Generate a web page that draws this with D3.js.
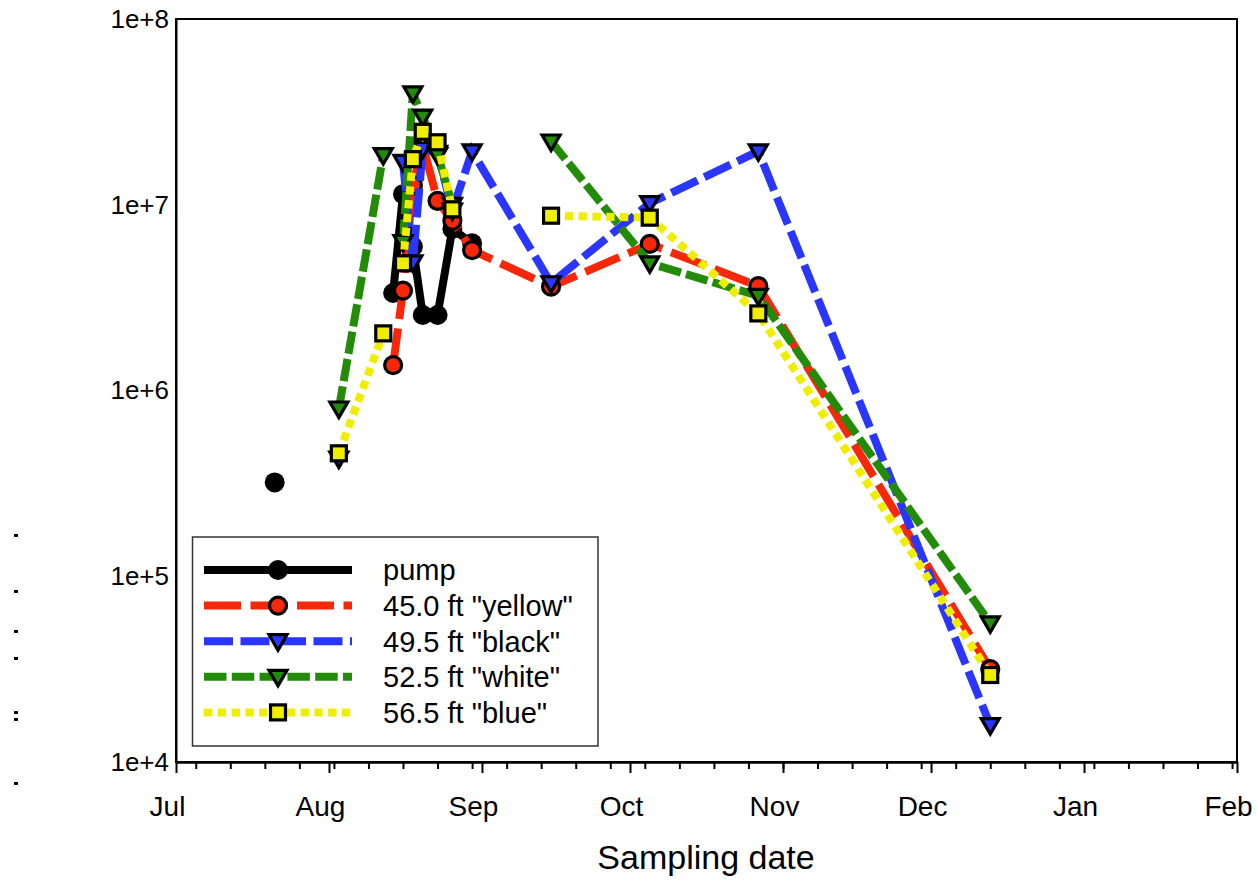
<!DOCTYPE html>
<html><head><meta charset="utf-8">
<script src="https://cdn.jsdelivr.net/npm/d3@7"></script>
<style>body{margin:0;background:#fff}svg{display:block}</style>
</head><body>
<svg id="c" width="1257" height="880"></svg>
<script>
// ---- data ----
const sampleDates = ["2009-07-21","2009-08-03","2009-08-12","2009-08-14","2009-08-16","2009-08-18",
  "2009-08-20","2009-08-23","2009-08-26","2009-08-30","2009-09-15","2009-10-05","2009-10-27","2009-12-13"];
const pump   = [3.2e5, null, null, 3.35e6, 1.14e7, 5.95e6, 2.55e6, 2.55e6, 7.4e6, 6.2e6, null, null, null, null];
const ft45   = [null, null, null, 1.37e6, 3.45e6, 1.27e7, 2.1e7, 1.05e7, 8.2e6, 5.7e6, 3.62e6, 6.15e6, 3.65e6, 3.16e4];
const ft49   = [null, 4.3e5, null, null, 1.7e7, 4.9e6, 2.0e7, 1.9e7, 9.3e6, 1.94e7, 3.78e6, 1.02e7, 1.94e7, 1.58e4];
const ft52   = [null, 8.0e5, 1.85e7, null, 6.3e6, 3.98e7, 2.98e7, 1.85e7, 1.0e7, null, 2.19e7, 4.84e6, 3.23e6, 5.58e4];
const ft56   = [null, 4.59e5, 2.03e6, null, 4.84e6, 1.76e7, 2.47e7, 2.17e7, 9.45e6, null, 8.73e6, 8.52e6, 2.6e6, 2.94e4];
const seriesNames = ['pump', '45.0 ft "yellow"', '49.5 ft "black"', '52.5 ft "white"', '56.5 ft "blue"'];
const monthLabels = ["Jul","Aug","Sep","Oct","Nov","Dec","Jan","Feb"];
const yTickValues = [1e4, 1e5, 1e6, 1e7, 1e8];
const yTickLabels = ["1e+4","1e+5","1e+6","1e+7","1e+8"];
const xAxisTitle = "Sampling date";

// ---- styles ----
const seriesValues = [pump, ft45, ft49, ft52, ft56];
const colors = ["#000000", "#f7280a", "#2a36fb", "#228b08", "#f0ee00"];
const dashes = [null, "37,9.5", "29,7.5", "22.5,5.3", "8.3,5.5"];
const markers = ["dot", "circle", "tri", "tri", "square"];

const parse = d3.utcParse("%Y-%m-%d");
const svg = d3.select("#c");
const L = 176, R = 1237, T = 19, B = 762;
const x = d3.scaleUtc().domain([parse("2009-07-01"), parse("2010-02-01")]).range([L, R]);
const y = d3.scaleLog().domain([1e4, 1e8]).range([B, T]);
const FONT = "Arial, 'Liberation Sans', Helvetica, sans-serif";

// stray marks at the left edge of the original
[534, 590, 630, 657, 711, 718, 782].forEach(v => svg.append("rect").attr("x", 14).attr("y", v).attr("width", 4).attr("height", 3).attr("fill", "#000"));

// frame
svg.append("rect").attr("x", L).attr("y", T).attr("width", R - L).attr("height", B - T)
  .attr("fill", "none").attr("stroke", "#000").attr("stroke-width", 2);

// x axis: months (major) and weeks (minor)
const months = d3.utcMonth.range(parse("2009-07-01"), parse("2010-02-02"));
const weeks = d3.utcSunday.range(parse("2009-07-01"), parse("2010-02-02"));
const gMinor = svg.append("g").attr("transform", `translate(0,${B})`)
  .call(d3.axisBottom(x).tickValues(weeks).tickSize(7).tickSizeOuter(0).tickFormat(""));
const gMajor = svg.append("g").attr("transform", `translate(0,${B})`)
  .call(d3.axisBottom(x).tickValues(months).tickSize(11).tickSizeOuter(0).tickPadding(23)
    .tickFormat((d, i) => monthLabels[i]));
[gMinor, gMajor].forEach(g => {
  g.select(".domain").attr("stroke", "#000").attr("stroke-width", 2);
  g.selectAll(".tick line").attr("stroke", "#000").attr("stroke-width", 2);
});
gMajor.selectAll(".tick text").attr("font-family", FONT).attr("font-size", 28).attr("fill", "#000")
  .attr("dx", -9);

// y axis labels
const gy = svg.append("g").attr("transform", `translate(${L},0)`)
  .call(d3.axisLeft(y).tickValues(yTickValues).tickSize(0).tickPadding(7)
    .tickFormat((d, i) => yTickLabels[i]));
gy.select(".domain").attr("stroke", "#000").attr("stroke-width", 2);
gy.selectAll(".tick text").attr("font-family", FONT).attr("font-size", 26).attr("fill", "#000");

// x axis title
svg.append("text").attr("x", 706).attr("y", 869).attr("text-anchor", "middle")
  .attr("font-family", FONT).attr("font-size", 34).text(xAxisTitle);

// markers
function drawMarker(g, type, color, cx, cy) {
  if (type === "dot") g.append("circle").attr("cx", cx).attr("cy", cy).attr("r", 10).attr("fill", "#000");
  else if (type === "circle") g.append("circle").attr("cx", cx).attr("cy", cy).attr("r", 8.5)
    .attr("fill", color).attr("stroke", "#000").attr("stroke-width", 3.2);
  else if (type === "tri") g.append("path").attr("d", `M${cx-9},${cy-6.5}L${cx+9},${cy-6.5}L${cx},${cy+9}Z`)
    .attr("fill", color).attr("stroke", "#000").attr("stroke-width", 3.2).attr("stroke-linejoin", "miter");
  else if (type === "square") g.append("rect").attr("x", cx - 7.5).attr("y", cy - 7.5).attr("width", 15).attr("height", 15)
    .attr("fill", color).attr("stroke", "#000").attr("stroke-width", 3.2);
}

const dates = sampleDates.map(parse);
const line = d3.line().defined(d => d.v != null).x(d => x(d.d)).y(d => y(d.v));
const plot = svg.append("g");
seriesValues.forEach((vals, si) => {
  const pts = vals.map((v, i) => ({ d: dates[i], v }));
  const g = plot.append("g");
  g.append("path").attr("d", line(pts)).attr("fill", "none").attr("stroke", colors[si])
    .attr("stroke-width", 8).attr("stroke-dasharray", dashes[si]).attr("stroke-linejoin", "miter");
  pts.filter(p => p.v != null).forEach(p => drawMarker(g, markers[si], colors[si], x(p.d), y(p.v)));
});

// legend
const lg = svg.append("g");
lg.append("rect").attr("x", 192.5).attr("y", 537).attr("width", 405.5).attr("height", 209)
  .attr("fill", "#fff").attr("stroke", "#333").attr("stroke-width", 1.5);
seriesNames.forEach((name, i) => {
  const cy = 570 + i * 35.6;
  lg.append("line").attr("x1", 204).attr("x2", 352).attr("y1", cy).attr("y2", cy)
    .attr("stroke", colors[i]).attr("stroke-width", 8).attr("stroke-dasharray", dashes[i]);
  drawMarker(lg, markers[i], colors[i], 278, cy);
  lg.append("text").attr("x", 383).attr("y", cy).attr("dy", "0.36em").attr("font-family", FONT)
    .attr("font-size", 29).text(name);
});
</script>
</body></html>
